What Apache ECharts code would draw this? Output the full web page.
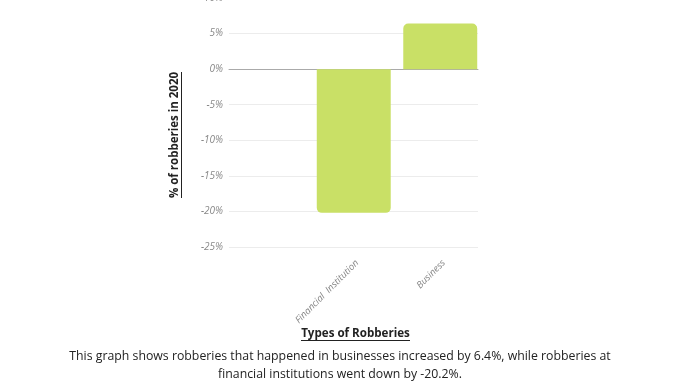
<!DOCTYPE html>
<html><head><meta charset="utf-8">
<script src="https://cdn.jsdelivr.net/npm/echarts@6/dist/echarts.min.js"></script>
<style>html,body{margin:0;padding:0;background:#fff}#c{width:678px;height:381px}</style>
</head><body><div id="c"></div>
<script>
const categories = ['', 'Financial  Institution', 'Business'];
const values = [null, -20.2, 6.4];
const yTicks = [10, 5, 0, -5, -10, -15, -20, -25];
const yAxisTitle = '% of robberies in 2020';
const xAxisTitle = 'Types of Robberies';
const captionLines = ['This graph shows robberies that happened in businesses increased by 6.4%, while robberies at', 'financial institutions went down by -20.2%.'];

const chart = echarts.init(document.getElementById('c'), null, {renderer: 'canvas'});
const FONT = '"Open Sans", sans-serif';
const yMin = yTicks[yTicks.length-1], yMax = yTicks[0];
chart.setOption({
  animation: false,
  grid: [
    {left: 229, width: 249, top: -2, height: 249, outerBoundsMode: 'none', containLabel: false},
    {left: 224, width: 259.5, top: -2, height: 249, outerBoundsMode: 'none', containLabel: false}
  ],
  xAxis: [
    {type: 'value', gridIndex: 0, min: 0, max: 1, axisLabel: {show: false}, axisTick: {show: false}, splitLine: {show: false},
     axisLine: {show: true, onZero: true, lineStyle: {color: '#aaa', width: 1}}},
    {type: 'category', gridIndex: 1, data: categories,
     axisLine: {show: false}, axisTick: {show: false},
     axisLabel: {rotate: 45, interval: 0, fontFamily: FONT, fontSize: 9.5, fontStyle: 'italic', color: '#888', margin: 18, padding: [0, -5, 0, 0]}}
  ],
  yAxis: [
    {type: 'value', gridIndex: 0, min: yMin, max: yMax, interval: 5,
     axisLine: {show: false}, axisTick: {show: false},
     axisLabel: {formatter: '{value}%', fontFamily: FONT, fontSize: 10, fontStyle: 'italic', color: '#888', margin: 6},
     splitLine: {lineStyle: {color: '#ececec', width: 1}}},
    {type: 'value', gridIndex: 1, min: yMin, max: yMax, interval: 5, show: false, splitLine: {show: false}}
  ],
  series: [{
    type: 'bar', xAxisIndex: 1, yAxisIndex: 1,
    data: values.map(v => v === null ? null : {value: v, itemStyle: {borderRadius: v >= 0 ? [5,5,0,0] : [0,0,5,5]}}),
    barWidth: '85.5%',
    itemStyle: {color: '#c9e066'}
  }],
  graphic: [
    {type: 'text', x: 175, y: 135, rotation: Math.PI/2,
     style: {text: yAxisTitle, font: 'bold 11.5px ' + FONT, fill: '#222', align: 'center', verticalAlign: 'middle'}},
    {type: 'rect', shape: {x: 181, y: 72, width: 1, height: 126}, style: {fill: '#222'}},
    {type: 'text', style: {text: xAxisTitle, x: 355.5, y: 334, font: 'bold 11.6px ' + FONT, fill: '#222', align: 'center', verticalAlign: 'middle'}},
    {type: 'rect', shape: {x: 301, y: 340, width: 109, height: 1}, style: {fill: '#222'}},
    {type: 'text', style: {text: captionLines[0], x: 340, y: 356, font: '12.3px ' + FONT, fill: '#222', align: 'center', verticalAlign: 'middle'}},
    {type: 'text', style: {text: captionLines[1], x: 340, y: 374, font: '12.3px ' + FONT, fill: '#222', align: 'center', verticalAlign: 'middle'}}
  ]
});
</script></body></html>
